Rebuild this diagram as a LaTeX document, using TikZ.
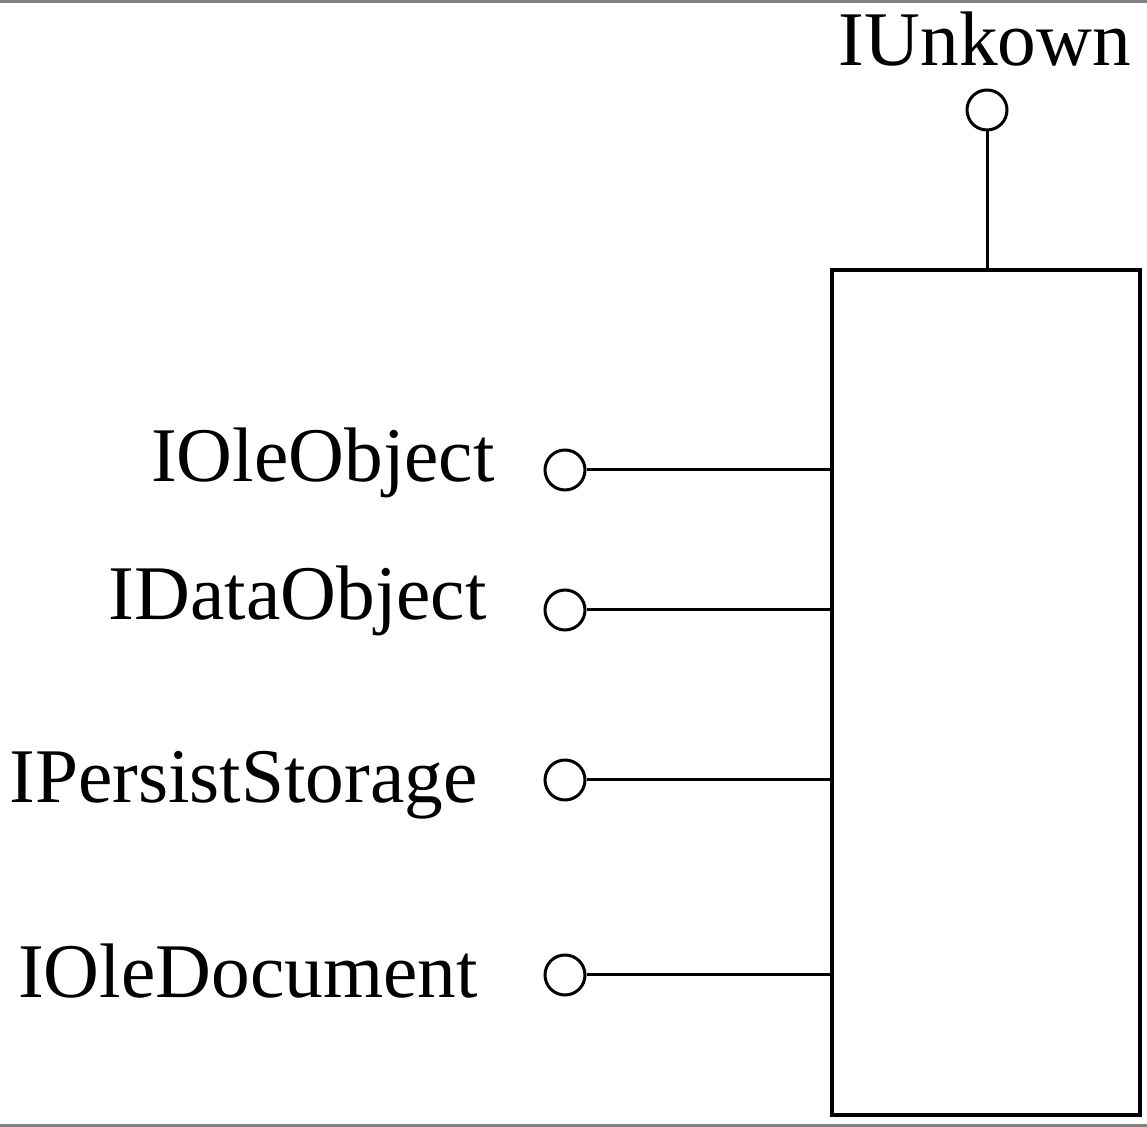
\documentclass[tikz,border=0pt]{standalone}
\usepackage{fontspec}
\setmainfont{Liberation Serif}
\begin{document}
\begin{tikzpicture}[
    port/.style={circle, draw, line width=0.06cm, minimum size=0.8cm, inner sep=0pt},
    ifname/.style={inner sep=0pt, font=\fontsize{44}{50}\selectfont},
    link/.style={line width=0.06cm}
  ]
    \useasboundingbox (0,0) rectangle (22.94,22.54);
    % scan edges
    \fill[gray] (0,22.48) rectangle (22.94,22.54);
    \fill[gray] (0,0) rectangle (22.94,0.05);

    \node[draw, line width=0.08cm, minimum width=6.16cm, minimum height=16.9cm,
      inner sep=0pt] (obj) at (19.72, 8.69) {};

    \begin{scope}[every node/.style={port}]
      \node (unk) at (19.74, 20.34) {};
      \node (ole) at (11.3, 13.14) {};
      \node (data) at (11.3, 10.34) {};
      \node (stor) at (11.3, 6.94) {};
      \node (doc) at (11.3, 3.04) {};
    \end{scope}
    \begin{scope}[every node/.style={ifname}]
      \node[anchor=base] (unkl) at (19.7, 21.22) {IUnkown};
      \node[anchor=base east] (olel) at (9.9, 12.9) {IOleObject};
      \node[anchor=base east] (datal) at (9.74, 10.14) {IDataObject};
      \node[anchor=base east] (storl) at (9.56, 6.48) {IPersistStorage};
      \node[anchor=base east] (docl) at (9.56, 2.58) {IOleDocument};
    \end{scope}

    \draw[link] (unk) -- (unk |- obj.north);
    \draw[link] (ole) -- (ole -| obj.west);
    \draw[link] (data) -- (data -| obj.west);
    \draw[link] (stor) -- (stor -| obj.west);
    \draw[link] (doc) -- (doc -| obj.west);
  \end{tikzpicture}
\end{document}
